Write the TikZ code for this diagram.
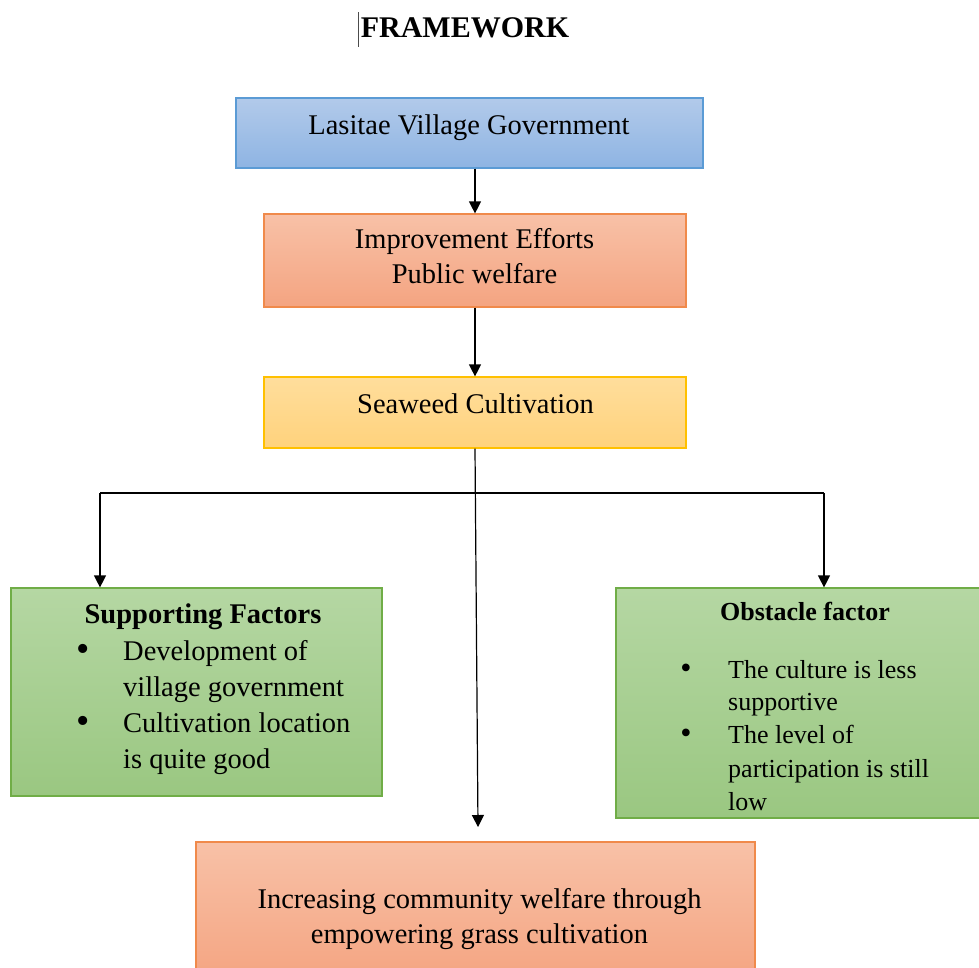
\documentclass[tikz,border=0pt]{standalone}
\usepackage{fontspec}
\setmainfont{Liberation Serif}
\usetikzlibrary{arrows.meta, positioning}

\definecolor{govTop}{HTML}{B2CAEA}
\definecolor{govBot}{HTML}{8EB4E3}
\definecolor{govLine}{HTML}{5B9BD5}
\definecolor{orTop}{HTML}{F8C1A7}
\definecolor{orBot}{HTML}{F4A481}
\definecolor{orLine}{HTML}{F08A4B}
\definecolor{yeTop}{HTML}{FFDE9C}
\definecolor{yeBot}{HTML}{FFD27C}
\definecolor{yeLine}{HTML}{FFC000}
\definecolor{grTop}{HTML}{B5D7A3}
\definecolor{grBot}{HTML}{9AC781}
\definecolor{grLine}{HTML}{70AD47}

\tikzset{
  box/.style={rectangle, line width=1.2pt, inner sep=0pt},
  govbox/.style={box, draw=govLine, top color=govTop, bottom color=govBot},
  orbox/.style={box, draw=orLine, top color=orTop, bottom color=orBot},
  yebox/.style={box, draw=yeLine, top color=yeTop, bottom color=yeBot},
  grbox/.style={box, draw=grLine, top color=grTop, bottom color=grBot},
  arr/.style={-{Triangle[width=12pt,length=12pt]}, line width=1.2pt},
  txt/.style={anchor=base, inner sep=0pt, font=\fontsize{28.5}{35}\selectfont},
  item/.style={txt, anchor=base west},
  smalltxt/.style={anchor=base west, inner sep=0pt, font=\fontsize{26}{33}\selectfont},
  dot/.style={anchor=base, inner sep=0pt, font=\fontsize{38}{40}\selectfont},
  smalldot/.style={dot, font=\fontsize{32}{34}\selectfont},
}

\begin{document}
\begin{tikzpicture}[x=1pt, y=-1pt]
  \clip (0,0) rectangle (979,967);
  \fill[white] (0,0) rectangle (979,967);

  % title
  \node[txt, font=\bfseries\fontsize{30}{36}\selectfont] (title) at (465,37) {FRAMEWORK};
  \draw[line width=1pt, black!70] (358,12) -- (358,47);

  % boxes
  \node[govbox, minimum width=467pt, minimum height=70pt] (gov) at (469.5,133) {};
  \node[orbox, minimum width=422pt, minimum height=93pt] (effort) at (475,260.5) {};
  \node[yebox, minimum width=422pt, minimum height=71pt] (seaweed) at (475,412.5) {};
  \node[grbox, minimum width=371pt, minimum height=208pt] (support) at (196.5,692) {};
  \node[grbox, minimum width=372pt, minimum height=230pt] (obstacle) at (802,703) {};
  \node[orbox, minimum width=559pt, minimum height=140pt] (goal) at (475.5,912) {};

  % texts
  \node[txt] (govtext) at (469,134) {Lasitae Village Government};
  \node[txt] (efforttext) at (474.5,248) {Improvement Efforts};
  \node[txt] (efforttext2) at (474.5,283) {Public welfare};
  \node[txt] (seaweedtext) at (475.5,413) {Seaweed Cultivation};

  \node[txt, font=\bfseries\fontsize{28.5}{35}\selectfont] (supporthead) at (203,623) {Supporting Factors};
  \foreach \y in {661,733}
    \node[dot] at (83,\y) {\textbullet};
  \foreach \y/\t [count=\i] in {660/Development of, 696/village government,
      732/Cultivation location, 768/is quite good}
    \node[item] (support\i) at (123,\y) {\t};

  \node[txt, font=\bfseries\fontsize{26}{33}\selectfont] (obstaclehead) at (805,620) {Obstacle factor};
  \foreach \y in {678,743}
    \node[smalldot] at (686,\y) {\textbullet};
  \foreach \y/\t [count=\i] in {678/The culture is less, 710/supportive,
      743/The level of, 777/participation is still, 810/low}
    \node[smalltxt] (obstacle\i) at (728,\y) {\t};

  \node[txt] (goaltext) at (479.5,908) {Increasing community welfare through};
  \node[txt] (goaltext2) at (479.5,943) {empowering grass cultivation};

  % connectors
  \draw[arr] (effort.north |- gov.south) -- (effort.north);
  \draw[arr] (effort.south) -- (seaweed.north);
  \coordinate (goalin) at (478,827);
  \draw[arr] (seaweed.south) -- (goalin);
  \coordinate (lfork) at (100,493);
  \coordinate (rfork) at (824,493);
  \draw[line width=1.2pt] (lfork) -- (rfork);
  \draw[arr] (lfork) -- (lfork |- support.north);
  \draw[arr] (rfork) -- (rfork |- obstacle.north);
\end{tikzpicture}
\end{document}
